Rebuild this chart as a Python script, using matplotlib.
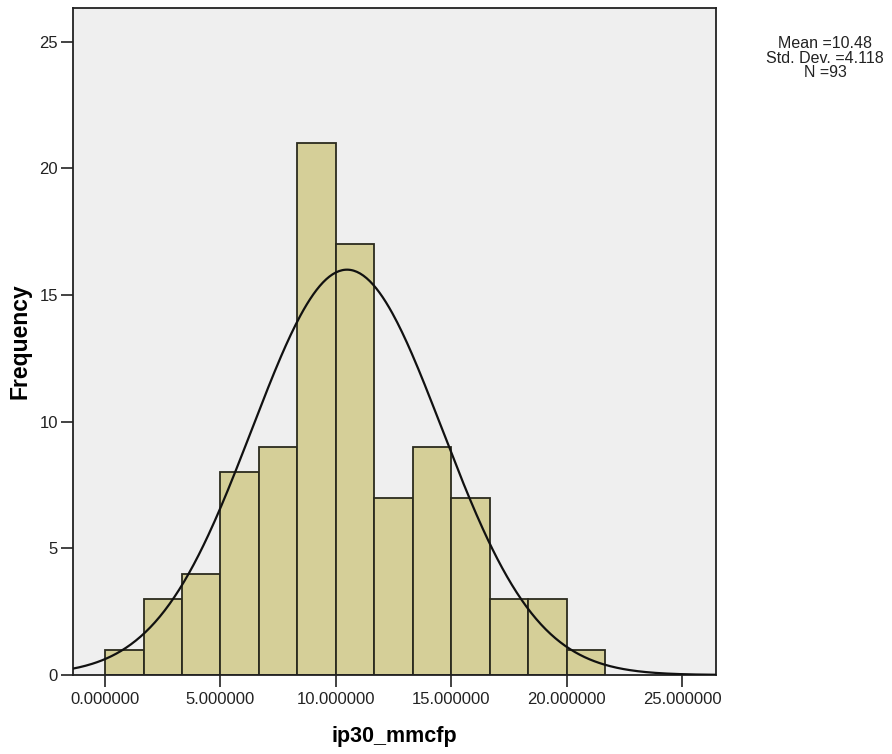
#!/usr/bin/env python3

import matplotlib
matplotlib.use("Agg")
import matplotlib.pyplot as plt
import numpy as np

# histogram of ip30_mmcfp, bins of 5/3 starting at 0
bin_width = 5.0 / 3.0
bin_starts = [i * bin_width for i in range(13)]
counts = [1, 3, 4, 8, 9, 21, 17, 7, 9, 7, 3, 3, 1]

mean = 10.48
std_dev = 4.118
n_obs = 93
curve_peak = 16.0   # height of the normal curve as drawn

x_ticks = [0, 5, 10, 15, 20, 25]
y_ticks = [0, 5, 10, 15, 20, 25]

plt.rcParams['font.family'] = ['Liberation Sans', 'DejaVu Sans']

fig = plt.figure(figsize=(8.92, 7.54), dpi=100)
fig.patch.set_facecolor('white')
ax = fig.add_axes([0.0815, 0.1048, 0.7212, 0.8846])
ax.set_facecolor('#efefef')

ax.bar(bin_starts, counts, width=bin_width, align='edge',
       color='#d5cf98', edgecolor='#2b2b1e', linewidth=1.3, zorder=2)

xs = np.linspace(-1.4, 26.5, 400)
ys = curve_peak * np.exp(-0.5 * ((xs - mean) / std_dev) ** 2)
ax.plot(xs, ys, color='#111111', lw=1.6, zorder=3)

ax.set_xlim(-1.40, 26.46)
ax.set_ylim(0, 26.33)
ax.set_xticks(x_ticks)
ax.set_xticklabels(["{:.6f}".format(v) for v in x_ticks])
ax.set_yticks(y_ticks)
ax.tick_params(axis='both', direction='out', length=8.5, width=1.2,
               labelsize=12, colors='#222222')
ax.tick_params(axis='x', pad=3.5)
ax.tick_params(axis='y', pad=2)
for s in ax.spines.values():
    s.set_linewidth(1.3)
    s.set_color('#222222')

ax.set_xlabel('ip30_mmcfp', fontsize=15.5, fontweight='bold', labelpad=14)
ax.set_ylabel('Frequency', fontsize=16.5, fontweight='bold', labelpad=6)

fig.text(0.925, 0.952,
         "Mean =%.2f\nStd. Dev. =%.3f\nN =%d" % (mean, std_dev, n_obs),
         ha='center', va='top', fontsize=11.5, linespacing=0.95,
         color='#222222')

fig.savefig('out.png', dpi=100)
